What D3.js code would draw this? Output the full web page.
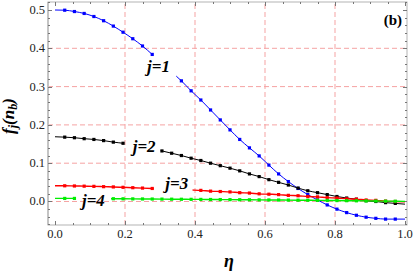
<!DOCTYPE html>
<html>
<head>
<meta charset="UTF-8">
<title>f_j(n_b) vs eta</title>
<style>
  body { margin: 0; background: #fff; }
</style>
</head>
<body>
<script src="https://cdn.jsdelivr.net/npm/d3@7"></script>
<script>
// sample grid: eta = k/36, k = 0..36 (markers at k = 1..35)
var eta = d3.range(37).map(function (k) { return k / 36; });

var f1 = [0.500, 0.4995, 0.496, 0.491, 0.483, 0.472, 0.458, 0.442, 0.425, 0.406,
          0.384, 0.361, 0.338, 0.315, 0.289, 0.265, 0.239, 0.213, 0.187, 0.162,
          0.140, 0.119, 0.095, 0.072, 0.052, 0.034, 0.018, 0.004, -0.009, -0.020,
          -0.029, -0.036, -0.041, -0.044, -0.046, -0.046, -0.046];
var f2 = [0.169, 0.168, 0.1665, 0.164, 0.162, 0.159, 0.155, 0.152, 0.147, 0.142,
          0.137, 0.132, 0.126, 0.120, 0.113, 0.107, 0.100, 0.0935, 0.087, 0.080,
          0.072, 0.065, 0.057, 0.050, 0.043, 0.035, 0.028, 0.023, 0.018, 0.013,
          0.009, 0.006, 0.002, 0.000, -0.003, -0.005, -0.007];
var f3 = [0.041, 0.041, 0.0405, 0.040, 0.0395, 0.0387, 0.038, 0.037, 0.036, 0.035,
          0.034, 0.033, 0.032, 0.031, 0.030, 0.029, 0.027, 0.026, 0.025, 0.023,
          0.022, 0.020, 0.019, 0.018, 0.016, 0.015, 0.013, 0.012, 0.010, 0.009,
          0.007, 0.006, 0.004, 0.003, 0.001, 0.000, -0.001];
var f4 = [0.008, 0.008, 0.008, 0.0078, 0.0076, 0.0074, 0.0072, 0.007, 0.0068, 0.0066,
          0.0064, 0.0062, 0.006, 0.0058, 0.0056, 0.0054, 0.0052, 0.005, 0.0048, 0.0046,
          0.0044, 0.0042, 0.004, 0.0038, 0.0036, 0.0034, 0.0032, 0.003, 0.0027, 0.0024,
          0.0021, 0.0018, 0.0015, 0.0012, 0.0009, 0.0006, 0.0003];

var seriesNames = ["j=1", "j=2", "j=3", "j=4"];
var seriesValues = [f1, f2, f3, f4];
var seriesColors = ["#0000ff", "#000000", "#ff0000", "#00ee00"];
// eta range where each curve is broken for its label
var gaps = [[0.28, 0.346], [0.195, 0.302], [0.282, 0.393], [0.057, 0.16]];
// label positions (eta, f)
var labelPos = [[0.263, 0.338], [0.222, 0.129], [0.315, 0.033], [0.077, -0.012]];

var xTicks = [0, 0.2, 0.4, 0.6, 0.8, 1.0];
var yTicks = [0, 0.1, 0.2, 0.3, 0.4, 0.5];
var gridX = [0.2, 0.4, 0.6, 0.8];
var gridY = [0, 0.1, 0.2, 0.3, 0.4];

var serif = "'Liberation Serif'";

var width = 416, height = 271;
var svg = d3.select("body").append("svg")
    .attr("width", width)
    .attr("height", height);

var x = d3.scaleLinear().domain([-0.02, 1.0057]).range([48, 407]);
var y = d3.scaleLinear().domain([-0.0614, 0.5209]).range([225, 2]);

// grid lines
svg.selectAll(".gx").data(gridX).enter().append("line")
    .attr("x1", d => x(d)).attr("x2", d => x(d))
    .attr("y1", y.range()[0]).attr("y2", y.range()[1])
    .attr("stroke", "#f5a3a3").attr("stroke-width", 1)
    .attr("stroke-dasharray", "5,3");
svg.selectAll(".gy").data(gridY).enter().append("line")
    .attr("x1", x.range()[0]).attr("x2", x.range()[1])
    .attr("y1", d => y(d)).attr("y2", d => y(d))
    .attr("stroke", "#f5a3a3").attr("stroke-width", 1)
    .attr("stroke-dasharray", "5,3");

// frame
svg.append("rect")
    .attr("x", 48).attr("y", 2)
    .attr("width", 359).attr("height", 223)
    .attr("fill", "none").attr("stroke", "#b3b3b3").attr("stroke-width", 1);
svg.append("line")
    .attr("x1", 48).attr("x2", 48).attr("y1", 2).attr("y2", 225)
    .attr("stroke", "#c4c4c4").attr("stroke-width", 2);

// ticks (inward) on all four sides
var yMinor = d3.range(-6, 53, 2).map(d => d / 100);
var xMinor = d3.range(0, 21).map(d => d / 20);
var tickG = svg.append("g").attr("stroke", "#777").attr("stroke-width", 1);
yMinor.forEach(function (v) {
  var major = Math.abs(v * 10 - Math.round(v * 10)) < 1e-6;
  var len = major ? 4 : 2;
  tickG.append("line").attr("x1", 48).attr("x2", 48 + len)
      .attr("y1", Math.round(y(v)) + 0.5).attr("y2", Math.round(y(v)) + 0.5);
  tickG.append("line").attr("x1", 407).attr("x2", 407 - len)
      .attr("y1", Math.round(y(v)) + 0.5).attr("y2", Math.round(y(v)) + 0.5);
});
xMinor.forEach(function (v) {
  var major = Math.abs(v * 5 - Math.round(v * 5)) < 1e-6;
  var len = major ? 4 : 2;
  tickG.append("line").attr("y1", 225).attr("y2", 225 - len)
      .attr("x1", Math.round(x(v)) + 0.5).attr("x2", Math.round(x(v)) + 0.5);
  tickG.append("line").attr("y1", 2).attr("y2", 2 + len)
      .attr("x1", Math.round(x(v)) + 0.5).attr("x2", Math.round(x(v)) + 0.5);
});

// tick labels
svg.selectAll(".xl").data(xTicks).enter().append("text")
    .style("font-family", serif)
    .attr("x", d => x(d)).attr("y", 238)
    .attr("text-anchor", "middle").attr("font-size", 12.5).attr("fill", "#222")
    .text(d => d3.format(".1f")(d));
svg.selectAll(".yl").data(yTicks).enter().append("text")
    .style("font-family", serif)
    .attr("x", 45).attr("y", d => y(d) + 4)
    .attr("text-anchor", "end").attr("font-size", 12.5).attr("fill", "#222")
    .text(d => d3.format(".1f")(d));

// axis titles
svg.append("text")
    .style("font-family", serif)
    .attr("x", 229).attr("y", 267)
    .attr("text-anchor", "middle").attr("font-size", 18)
    .attr("font-weight", "bold").attr("font-style", "italic")
    .text("η");
var yl = svg.append("text")
    .style("font-family", serif)
    .attr("transform", "translate(14,116) rotate(-90)")
    .attr("text-anchor", "middle").attr("font-size", 17)
    .attr("font-weight", "bold").attr("font-style", "italic");
yl.append("tspan").text("f");
yl.append("tspan").attr("font-size", 12).attr("dy", 3).text("j");
yl.append("tspan").attr("dy", -3).text("(n");
yl.append("tspan").attr("font-size", 12).attr("dy", 3).text("b");
yl.append("tspan").attr("dy", -3).text(")");

svg.append("text")
    .style("font-family", serif)
    .attr("x", 402).attr("y", 25)
    .attr("text-anchor", "end").attr("font-size", 15).attr("font-weight", "bold")
    .text("(b)");

// curves
var line = d3.line()
    .x(d => x(d[0])).y(d => y(d[1]))
    .curve(d3.curveMonotoneX);

seriesValues.forEach(function (vals, i) {
  var pts = eta.map((e, k) => [e, vals[k]]);
  var gap = gaps[i];
  var clip = svg.append("clipPath").attr("id", "clip" + i);
  clip.append("rect").attr("x", x(0) - 1).attr("y", 0)
      .attr("width", x(gap[0]) - x(0) + 1).attr("height", height);
  clip.append("rect").attr("x", x(gap[1])).attr("y", 0)
      .attr("width", x(1) - x(gap[1]) + 1).attr("height", height);

  svg.append("path")
      .datum(pts)
      .attr("d", line)
      .attr("fill", "none")
      .attr("stroke", seriesColors[i])
      .attr("stroke-width", i >= 2 ? 1.4 : 1)
      .attr("clip-path", "url(#clip" + i + ")");

  var marks = pts.filter((p, k) => k > 0 && k < 36 && (p[0] <= gap[0] || p[0] >= gap[1]));
  svg.selectAll(".m" + i).data(marks).enter().append("rect")
      .attr("x", d => x(d[0]) - 1.6).attr("y", d => y(d[1]) - 1.6)
      .attr("width", 3.2).attr("height", 3.2)
      .attr("fill", seriesColors[i]);

  svg.append("text")
      .style("font-family", serif)
      .attr("x", x(labelPos[i][0])).attr("y", y(labelPos[i][1]))
      .attr("font-size", 17).attr("font-weight", "bold").attr("font-style", "italic")
      .text(seriesNames[i]);
});
</script>
</body>
</html>
